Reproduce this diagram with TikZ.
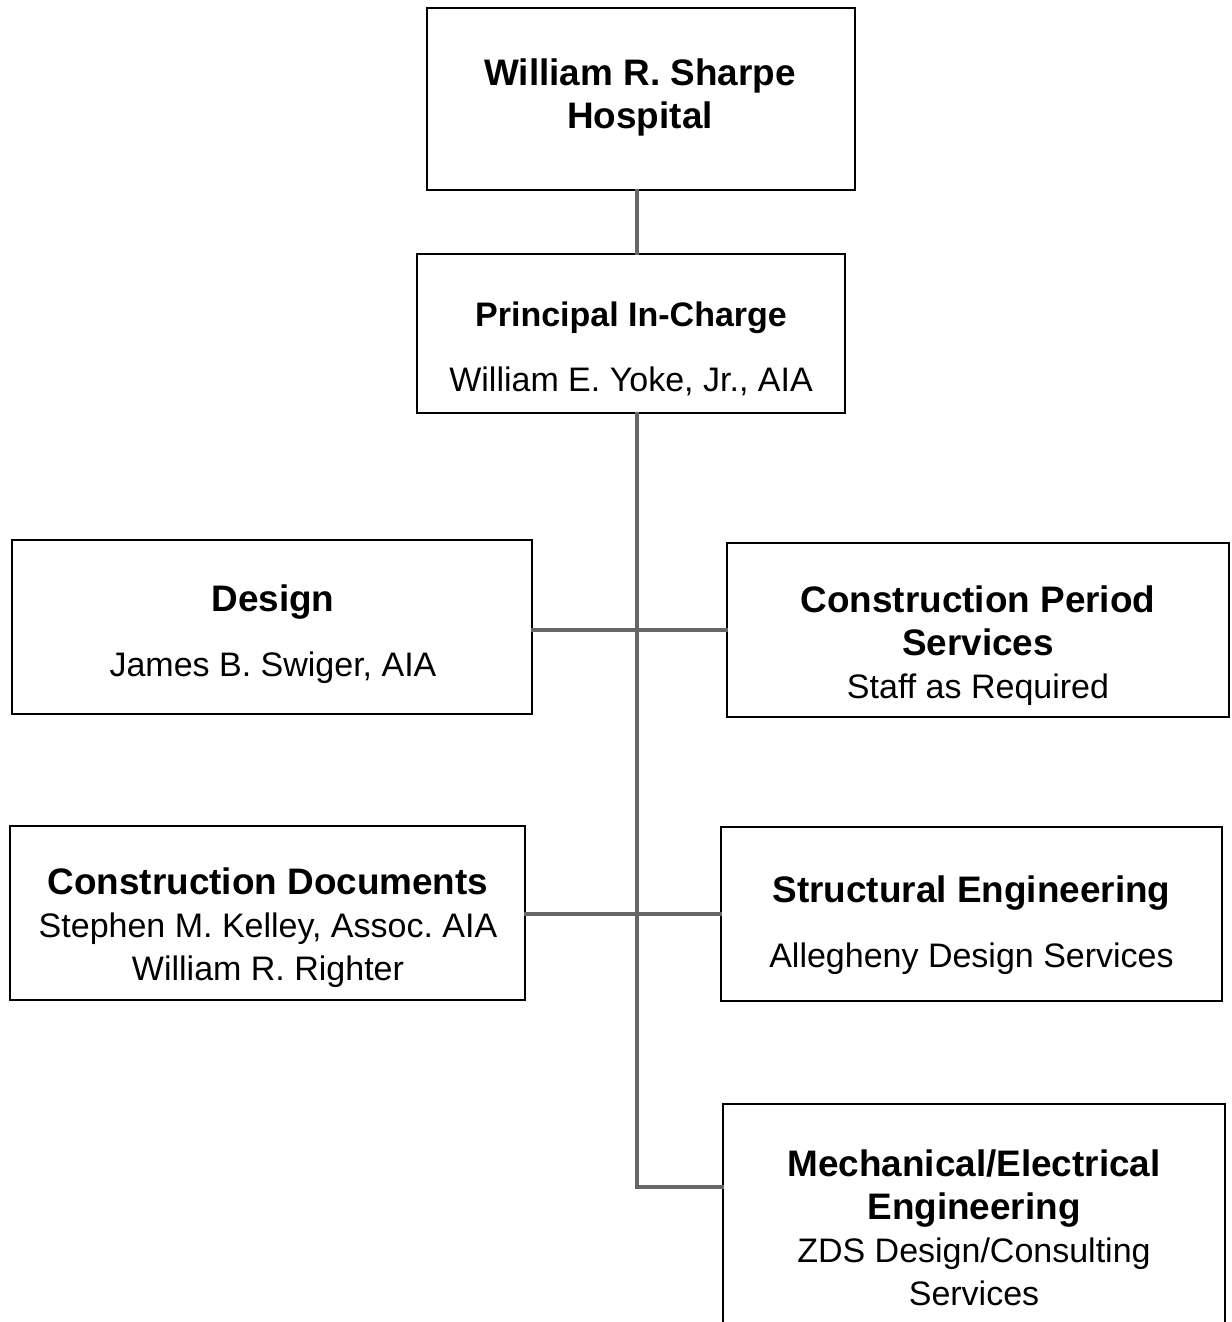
\documentclass[tikz,border=0pt]{standalone}
\usepackage{fontspec}
\setmainfont{Liberation Sans}
\newcommand{\boxhead}[1]{{\fontsize{21pt}{24.4pt}\selectfont\bfseries #1}}
\begin{document}
\begin{tikzpicture}[x=0.02cm,y=-0.02cm]
      \useasboundingbox[fill=white] (0,0) rectangle (1231,1322);
      \coordinate (spine) at (637,0);
      \coordinate (bend) at (637,1187);
      \begin{scope}[every node/.style={rectangle,draw=black,line width=1.1pt,inner sep=0pt}]
      \node[minimum width=8.56cm,minimum height=3.64cm] (hosp) at (641,99) {};
      \node[minimum width=8.56cm,minimum height=3.18cm] (princ) at (631,333.5) {};
      \node[minimum width=10.4cm,minimum height=3.48cm] (design) at (272,627) {};
      \node[minimum width=10.04cm,minimum height=3.48cm] (cps) at (978,630) {};
      \node[minimum width=10.3cm,minimum height=3.48cm] (cdocs) at (267.5,913) {};
      \node[minimum width=10.02cm,minimum height=3.48cm] (struct) at (971.5,914) {};
      \node[minimum width=10.04cm,minimum height=4.72cm] (mech) at (974,1222) {};
      \end{scope}
      \begin{scope}[every node/.style={align=center,font=\fontsize{19.35pt}{24.4pt}\selectfont}]
      \node (hosp-t) at (640,97.5) {\boxhead{William R. Sharpe}\\ \boxhead{Hospital}};
      \node (princ-t) at (631,349) {{\bfseries Principal In-Charge}\\[12.5pt] William E. Yoke, Jr., AIA};
      \node (design-t) at (273,634) {\boxhead{Design}\\[12.5pt] James B. Swiger, AIA};
      \node (cps-t) at (978,645.5) {\boxhead{Construction Period}\\ \boxhead{Services}\\ Staff as Required};
      \node (cdocs-t) at (268,928) {\boxhead{Construction Documents}\\ Stephen M. Kelley, Assoc.\ AIA\\ William R. Righter};
      \node (struct-t) at (971.5,925) {\boxhead{Structural Engineering}\\[12.5pt] Allegheny Design Services};
      \node (mech-t) at (974,1228) {\boxhead{Mechanical/Electrical}\\ \boxhead{Engineering}\\ ZDS Design/Consulting\\ Services};
      \end{scope}
      \begin{scope}[every edge/.style={draw=black!60,line width=2pt,line cap=rect}]
      \path (hosp.south -| spine) edge (princ.north -| spine);
      \path (princ.south -| spine) edge (bend);
      \path (bend) edge (mech.west |- bend);
      \path (design.east |- cps.west) edge (cps.west);
      \path (cdocs.east |- struct.west) edge (struct.west);
      \end{scope}
\end{tikzpicture}
\end{document}
